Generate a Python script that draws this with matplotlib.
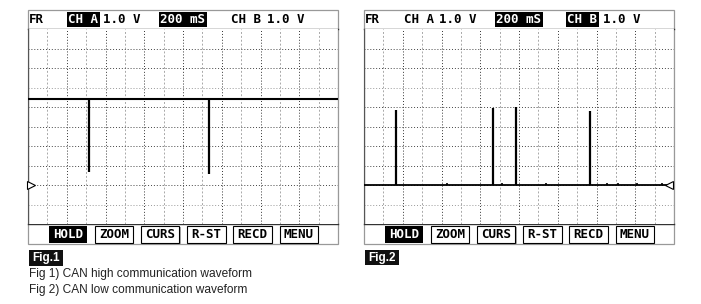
import matplotlib
matplotlib.use("Agg")
import matplotlib.pyplot as plt
from matplotlib.patches import Rectangle

# scope screen values (x in time divisions 0..16, y in volt divisions 0..10)
fig1_level = 6.41
fig1_spike_x = [3.15, 9.34]
fig1_spike_bottom = [2.67, 2.56]
fig1_ground = 2.0

fig2_level = 2.0
fig2_spike_x = [1.65, 6.66, 7.85, 11.66]
fig2_spike_top = [5.85, 5.95, 6.0, 5.8]
fig2_blip_x = [4.28, 7.12, 9.4, 12.54, 13.1, 14.1, 15.4]
fig2_blip_h = 0.08
fig2_ground = 2.0

header_items = ["FR", "CH A", "1.0 V", "200 mS", "CH B", "1.0 V"]
header_rel_x = [1, 40, 75, 132, 203, 239]
header_hl_1 = [1, 3]
header_hl_2 = [3, 4]
buttons = ["HOLD", "ZOOM", "CURS", "R-ST", "RECD", "MENU"]
captions = ["Fig 1) CAN high communication waveform",
            "Fig 2) CAN low communication waveform"]

W, H = 701, 304
fig = plt.figure(figsize=(W / 100, H / 100), dpi=100)
fig.patch.set_facecolor("white")

deco = fig.add_axes([0, 0, 1, 1])
deco.set_xlim(0, W)
deco.set_ylim(H, 0)
deco.axis("off")

mono = dict(family="DejaVu Sans Mono", fontweight="bold", fontsize=9)

def draw_frame(left, hl, label, lab_y):
    right = left + 310
    # outer bezel
    deco.add_patch(Rectangle((left, 10), 310, 234, fill=False, ec="#999999", lw=0.9))
    deco.plot([left, right], [29, 29], color="#333333", lw=1.0)
    deco.plot([left, right], [224, 224], color="#333333", lw=1.0)
    # header
    for i, (txt, rx) in enumerate(zip(header_items, header_rel_x)):
        x = left + rx
        if i in hl:
            w = len(txt) * 7.6 + 3
            deco.add_patch(Rectangle((x - 1.5, 12), w, 15, color="black", lw=0))
            deco.text(x, 19.5, txt, color="white", ha="left", va="center", **mono)
        else:
            deco.text(x, 19.5, txt, color="black", ha="left", va="center", **mono)
    # soft keys
    for k, b in enumerate(buttons):
        bx = left + 20.5 + 46.2 * k
        if k == 0:
            deco.add_patch(Rectangle((bx, 226), 38.5, 17, color="black", lw=0))
            deco.text(bx + 19.25, 234.8, b, color="white", ha="center", va="center", **mono)
        else:
            deco.add_patch(Rectangle((bx + 1.2, 227.2), 38.5, 17, color="#aaaaaa", lw=0))
            deco.add_patch(Rectangle((bx, 226), 38.5, 17, fc="white", ec="black", lw=0.8))
            deco.text(bx + 19.25, 234.8, b, color="black", ha="center", va="center", **mono)
    # figure tag
    deco.add_patch(Rectangle((left + 1, lab_y), 34, 15.5, color="#111111", lw=0))
    deco.text(left + 18, lab_y + 8, label, color="white", ha="center", va="center",
              family="Liberation Sans", fontweight="bold", fontsize=8.5)

def scope_axes(left):
    ax = fig.add_axes([left / W, (H - 224) / H, 310 / W, 195 / H])
    ax.set_xlim(0, 16)
    ax.set_ylim(0, 10)
    ax.set_xticks([])
    ax.set_yticks([])
    for s in ax.spines.values():
        s.set_visible(False)
    for gx in range(1, 16):
        if gx % 2 == 0:
            ax.axvline(gx, color="#333333", lw=0.7, ls=(0, (1, 2)), zorder=1)
        else:
            ax.axvline(gx, color="#a8a8a8", lw=0.7, ls=(0, (2, 2)), zorder=1)
    for gy in range(1, 10):
        c = "#999999" if gy in (1, 7) else "#444444"
        ax.axhline(gy, color=c, lw=0.7, ls=(0, (1, 2)), zorder=1)
    ax.axvline(0, color="#555555", lw=1.0)
    ax.axvline(16, color="#aaaaaa", lw=1.0)
    return ax

draw_frame(28, header_hl_1, "Fig.1", 250)
draw_frame(364, header_hl_2, "Fig.2", 249.5)

ax1 = scope_axes(28)
ax1.axhline(fig1_level, color="black", lw=1.5, zorder=3)
ax1.vlines(fig1_spike_x, fig1_spike_bottom, fig1_level, color="black", lw=1.6, zorder=3)
ax1.plot([0.17], [fig1_ground], marker=">", ms=6, mfc="white", mec="black", mew=0.8,
         clip_on=False, zorder=4)

ax2 = scope_axes(364)
ax2.plot([0, 15.75], [fig2_level, fig2_level], color="black", lw=1.3, zorder=3)
ax2.vlines(fig2_spike_x, fig2_level, fig2_spike_top, color="black", lw=1.6, zorder=3)
ax2.vlines(fig2_blip_x, fig2_level, fig2_level + fig2_blip_h, color="black", lw=1.2, zorder=3)
ax2.plot([15.75], [fig2_ground], marker="<", ms=6, mfc="white", mec="black", mew=0.8,
         clip_on=False, zorder=4)

for i, c in enumerate(captions):
    deco.text(29, 273.5 + 16 * i, c, ha="left", va="center", color="#222222",
              family="Liberation Sans", fontsize=8.6)

fig.savefig("out.png", dpi=100)
